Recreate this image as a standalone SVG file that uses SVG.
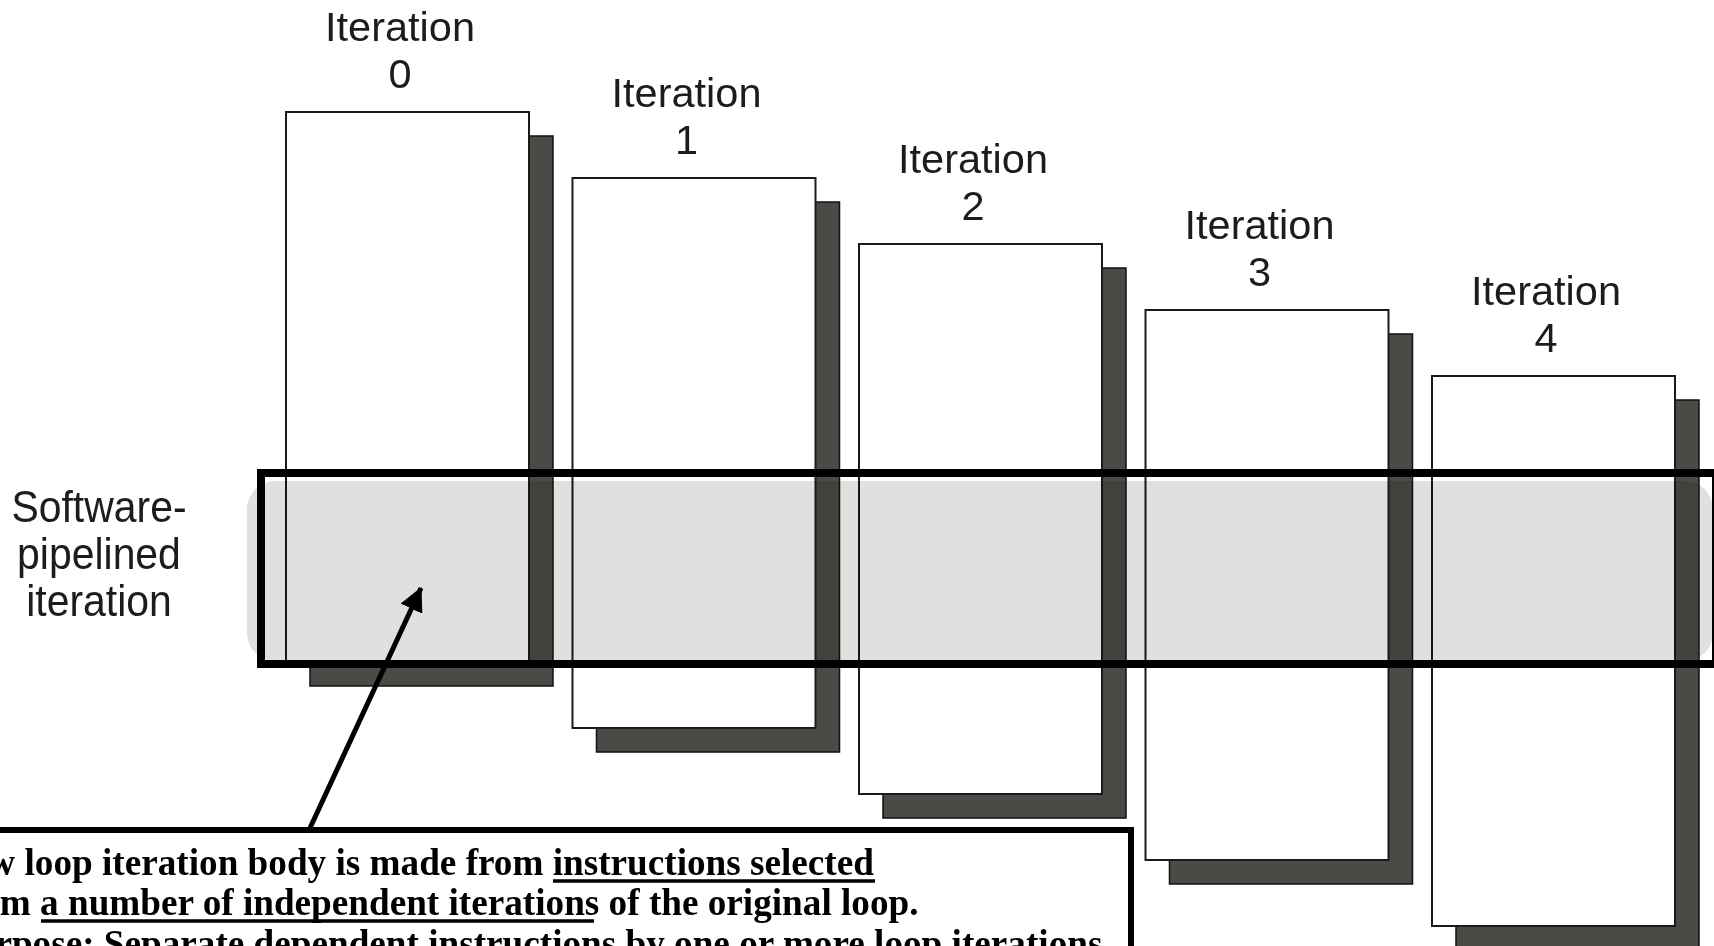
<svg xmlns="http://www.w3.org/2000/svg" width="1714" height="946" viewBox="0 0 1714 946">
<defs>
<style>
.shadow{fill:#4a4b46;stroke:#111;stroke-width:1.5}
.box{fill:#fff;stroke:#1a1a1a;stroke-width:2}
.lbl{font-family:"Liberation Sans",Arial,sans-serif;font-size:41.5px;fill:#1c1c1c;text-anchor:middle}
.sw{font-family:"Liberation Sans",Arial,sans-serif;font-size:44px;fill:#1c1c1c;text-anchor:middle}
.note{font-family:"Liberation Serif","Times New Roman",serif;font-size:37.2px;font-weight:bold;fill:#000}
</style>
<marker id="ah" viewBox="0 0 10 10" refX="9.5" refY="5" markerWidth="4.8" markerHeight="4.8" orient="auto" markerUnits="strokeWidth">
<path d="M0,0 L10,5 L0,10 Z" fill="#000"/>
</marker>
</defs>
<rect width="1714" height="946" fill="#fff"/>
<g id="iter0">
<rect class="shadow" x="310" y="136" width="243" height="550"/>
<rect class="box" x="286" y="112" width="243" height="550"/>
<text class="lbl" x="400" y="41">Iteration</text>
<text class="lbl" x="400" y="88">0</text>
</g>
<g id="iter1">
<rect class="shadow" x="596.5" y="202" width="243" height="550"/>
<rect class="box" x="572.5" y="178" width="243" height="550"/>
<text class="lbl" x="686.5" y="107">Iteration</text>
<text class="lbl" x="686.5" y="154">1</text>
</g>
<g id="iter2">
<rect class="shadow" x="883" y="268" width="243" height="550"/>
<rect class="box" x="859" y="244" width="243" height="550"/>
<text class="lbl" x="973" y="173">Iteration</text>
<text class="lbl" x="973" y="220">2</text>
</g>
<g id="iter3">
<rect class="shadow" x="1169.5" y="334" width="243" height="550"/>
<rect class="box" x="1145.5" y="310" width="243" height="550"/>
<text class="lbl" x="1259.5" y="239">Iteration</text>
<text class="lbl" x="1259.5" y="286">3</text>
</g>
<g id="iter4">
<rect class="shadow" x="1456" y="400" width="243" height="550"/>
<rect class="box" x="1432" y="376" width="243" height="550"/>
<text class="lbl" x="1546" y="305">Iteration</text>
<text class="lbl" x="1546" y="352">4</text>
</g>
<g id="band">
<rect x="247" y="481" width="1466" height="180" rx="28" ry="28" fill="#dfe1de" style="mix-blend-mode:multiply"/>
<rect x="261" y="473" width="1455" height="191" fill="none" stroke="#000" stroke-width="8"/>
</g>
<g id="label" transform="translate(99,0) scale(0.93,1)">
<text class="sw" x="0" y="522">Software-</text>
<text class="sw" x="0" y="569">pipelined</text>
<text class="sw" x="0" y="616">iteration</text>
</g>
<g id="callout">
<rect x="-20" y="830" width="1151" height="140" fill="#fff" stroke="#000" stroke-width="6"/>
<text class="note" x="-55" y="875">New loop iteration body is made from instructions selected</text>
<text class="note" x="-47" y="915">from a number of independent iterations of the original loop.</text>
<text class="note" x="-48" y="956">Purpose: Separate dependent instructions by one or more loop iterations.</text>
<line x1="553" y1="881" x2="875" y2="881" stroke="#000" stroke-width="3.5"/>
<line x1="41" y1="921" x2="594" y2="921" stroke="#000" stroke-width="3.5"/>
</g>
<g id="connectors">
<line x1="310" y1="828" x2="421" y2="588" stroke="#000" stroke-width="5" marker-end="url(#ah)"/>
</g>
</svg>
